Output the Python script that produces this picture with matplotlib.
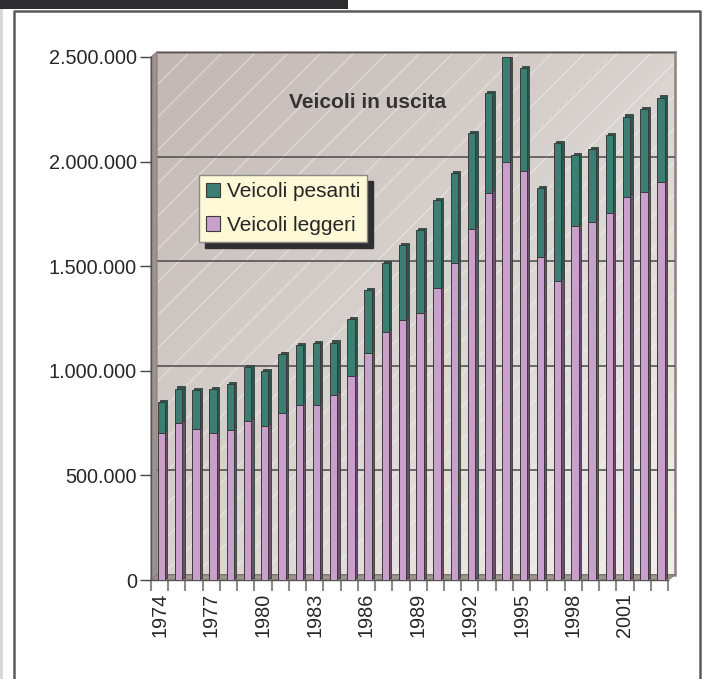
import numpy as np
import matplotlib
matplotlib.use("Agg")
import matplotlib.pyplot as plt
from matplotlib.patches import Patch, Polygon, Rectangle
from matplotlib.lines import Line2D
from matplotlib.ticker import FuncFormatter
import matplotlib.transforms as mtransforms

plt.rcParams['font.family'] = ['Liberation Sans', 'DejaVu Sans']

# ---------------- data ----------------
years = list(range(1974, 2004))
leggeri = [701000, 749000, 720000, 701000, 718000, 760000, 736000, 797000, 836000, 836000,
           886000, 975000, 1087000, 1184000, 1243000, 1275000, 1394000, 1514000, 1676000, 1851000,
           1999000, 1956000, 1542000, 1431000, 1692000, 1713000, 1753000, 1832000, 1856000, 1901000]
pesanti = [148000, 165000, 188000, 210000, 219000, 257000, 261000, 282000, 287000, 295000,
           248000, 271000, 299000, 330000, 358000, 396000, 422000, 430000, 459000, 475000,
           499000, 490000, 330000, 656000, 339000, 347000, 374000, 383000, 394000, 404000]
label_leggeri = "Veicoli leggeri"
label_pesanti = "Veicoli pesanti"
title = "Veicoli in uscita"
y_ticks = [0, 500000, 1000000, 1500000, 2000000, 2500000]
x_label_years = list(range(1974, 2004, 3))

# ---------------- style ----------------
W, H = 703, 679
DPI = 100
green = "#3b7f72"
green_side = "#2a5750"
pink = "#c9a0cb"
pink_side = "#6a5068"
edge = "#3a3a3a"
txt = "#262626"

fig = plt.figure(figsize=(W / DPI, H / DPI), dpi=DPI)
fig.patch.set_facecolor("white")


def fx(x):
    return x / W


def fy(y):
    return 1 - y / H


def px(pts):
    return [(fx(a), fy(b)) for a, b in pts]


# front plane (axes) and back wall
L, R, T, B = 151, 668, 57, 580
WL, WR, WT, WB = 157, 675, 52, 575

bg = fig.add_axes([fx(WL), fy(WB), (WR - WL) / W, (WB - WT) / H])
bg.set_zorder(0)
n = 200
ii, jj = np.mgrid[0:n, 0:n] / (n - 1)
t = (ii + jj) / 2
c0 = np.array(matplotlib.colors.to_rgb("#c1b7b3"))
c1 = np.array(matplotlib.colors.to_rgb("#f1efed"))
img = c0[None, None, :] * (1 - t[..., None]) + c1[None, None, :] * t[..., None]
bg.imshow(img, extent=[0, 1, 0, 2500000], aspect="auto", interpolation="bilinear", zorder=0)
bg.set_xlim(0, 1)
bg.set_ylim(0, 2500000)
# diagonal light hatch lines on the wall
wpx, hpx = WR - WL, WB - WT
htr = mtransforms.Affine2D().scale(1 / wpx, 1 / hpx) + bg.transAxes
for c in np.arange(-hpx, wpx, 33):
    bg.plot([c, c + hpx], [0, hpx], color="white", lw=0.8, alpha=0.45, transform=htr, zorder=1)
bg.set_yticks(y_ticks)
bg.grid(axis="y", color="#4a4a4a", lw=1.1, zorder=2)
bg.set_axisbelow(False)
bg.tick_params(left=False, bottom=False, labelleft=False, labelbottom=False)
bg.set_xticks([])
for s in ["left", "bottom"]:
    bg.spines[s].set_visible(False)
for s in ["top", "right"]:
    bg.spines[s].set_color("#8e827e")
    bg.spines[s].set_linewidth(1.8)

# side wall and floor
side = Polygon(px([(L, B), (L, T), (WL, WT), (WL, WB)]), closed=True, transform=fig.transFigure,
               facecolor="#9e928f", edgecolor="#8a7e7b", lw=0.8, zorder=0.5)
floor = Polygon(px([(L, B), (WL, WB), (WR, WB), (R, B)]), closed=True, transform=fig.transFigure,
                facecolor="#a0948f", edgecolor="#8a7e7b", lw=0.8, zorder=0.5)
fig.patches.extend([side, floor])

# front axes
ax = fig.add_axes([fx(L), fy(B), (R - L) / W, (B - T) / H])
ax.set_zorder(1)
ax.patch.set_alpha(0)
ax.set_xlim(-0.5, len(years) - 0.5)
ax.set_ylim(0, 2500000)

x = np.arange(len(years)) + 0.1
bw = 0.43
depth = mtransforms.ScaledTranslation(2.3 / DPI, 2.3 / DPI, fig.dpi_scale_trans)
ax.bar(x, leggeri, width=bw, color=pink_side, edgecolor=edge, lw=0.6,
       transform=ax.transData + depth, zorder=2)
ax.bar(x, pesanti, bottom=leggeri, width=bw, color=green_side, edgecolor=edge, lw=0.6,
       transform=ax.transData + depth, zorder=2)
ax.bar(x, leggeri, width=bw, color=pink, edgecolor=edge, lw=0.7, zorder=3)
ax.bar(x, pesanti, bottom=leggeri, width=bw, color=green, edgecolor=edge, lw=0.7, zorder=3)

# axes styling
for s in ["top", "right"]:
    ax.spines[s].set_visible(False)
ax.spines["left"].set_color("#555555")
ax.spines["bottom"].set_color("#555555")
ax.spines["left"].set_linewidth(1.0)
ax.spines["bottom"].set_linewidth(1.0)
ax.set_yticks(y_ticks)
ax.yaxis.set_major_formatter(FuncFormatter(lambda v, p: f"{int(v):,}".replace(",", ".")))
ax.tick_params(axis="y", length=8, width=1.0, color="#444444", labelsize=14.3, labelcolor=txt, pad=2)

ax.set_xticks(np.arange(len(years) + 1) - 0.5)
ax.set_xticklabels([])
ax.tick_params(axis="x", which="major", length=8, width=1.5, color="#8c8c8c")
lab_pos = [years.index(yv) for yv in x_label_years]
ax.set_xticks(lab_pos, minor=True)
ax.set_xticklabels([str(yv) for yv in x_label_years], minor=True, rotation=90)
ax.tick_params(axis="x", which="minor", length=0, labelsize=14.3, labelcolor=txt, pad=9)

ax.text((368 - L) / (R - L), (B - 108) / (B - T), title, transform=ax.transAxes,
        ha="center", va="baseline", fontsize=15, fontweight="bold", color="#333333")

handles = [Patch(facecolor=green, edgecolor=edge, lw=0.8, label=label_pesanti),
           Patch(facecolor=pink, edgecolor=edge, lw=0.8, label=label_leggeri)]
leg = ax.legend(handles=handles, loc="upper left", bbox_to_anchor=(fx(199), fy(175)),
                bbox_transform=fig.transFigure, borderaxespad=0, fontsize=15,
                frameon=True, fancybox=False, framealpha=1, facecolor="#fdf8d6",
                edgecolor="#8a8a8a", handlelength=0.68, handleheight=0.68,
                handletextpad=0.3, labelspacing=0.7, borderpad=0.35,
                shadow={"ox": 4, "oy": -4, "color": "#2e2e33", "alpha": 1})
for tx in leg.get_texts():
    tx.set_color(txt)
leg.set_zorder(10)

# page decorations: top black bar, outer frame
fig.patches.append(Rectangle((0, fy(9)), fx(348), 9 / H, transform=fig.transFigure,
                             facecolor="#2d2d30", edgecolor="none", zorder=5))
fig.patches.append(Rectangle((0, 0), fx(2.5), fy(9), transform=fig.transFigure,
                             facecolor="#d8d8d8", edgecolor="none", zorder=5))
fig.lines.append(Line2D([fx(14), fx(14), fx(700), fx(700)], [0, fy(11), fy(11), 0],
                        transform=fig.transFigure, color="#5a5a5a", lw=1.8, zorder=5))

fig.savefig("out.png", dpi=DPI)
